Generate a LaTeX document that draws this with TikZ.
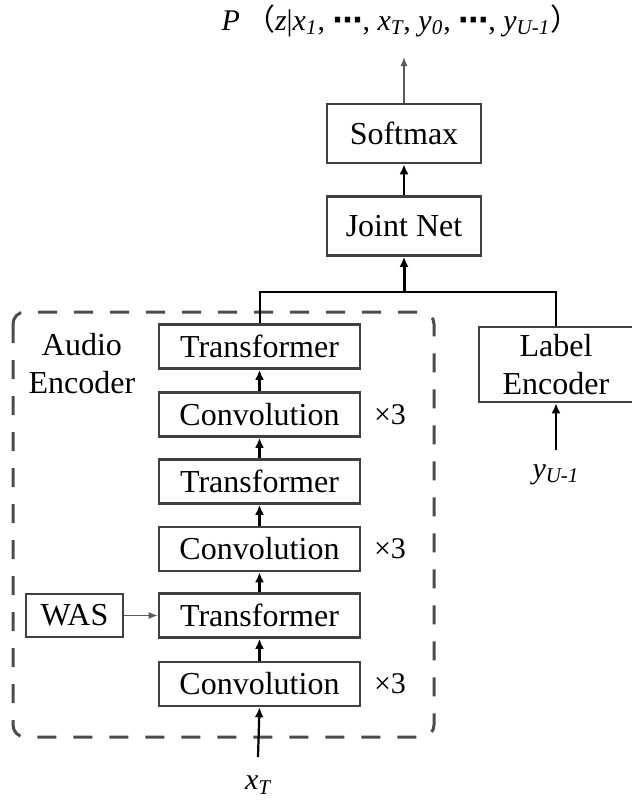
\documentclass[tikz,border=0pt]{standalone}
\usepackage{fontspec}
\setmainfont{Liberation Serif}
\newfontfamily\cjk{Noto Sans CJK SC}
\newfontfamily\dotfont{DejaVu Sans}
\usetikzlibrary{arrows.meta}
\newcommand{\ivar}[2]{\textit{#1}\textsubscript{\itshape #2}}
\newcommand{\middots}{{\dotfont\bfseries ⋯}}

\begin{document}
\begin{tikzpicture}[x=0.5pt,y=-0.5pt,
        >={Latex[length=5pt,width=4.5pt]},
        block/.style={draw=black!75,line width=1.3pt,fill=white,inner sep=0pt,minimum width=100.5pt,minimum height=22pt,font=\fontsize{16}{19}\selectfont},
        topblock/.style={block,minimum width=77pt,minimum height=29.5pt},
        labelblock/.style={block,align=center,minimum width=77pt,minimum height=37.5pt},
        wasblock/.style={block,minimum width=48.5pt,minimum height=21.5pt},
        encoder/.style={draw=black!70,line width=1.5pt,dash pattern=on 9.5pt off 8.5pt,rounded corners=6pt},
        link/.style={->,line width=1.1pt},
        thinlink/.style={->,draw=black!65,line width=0.7pt,>={Latex[length=4.5pt,width=3.5pt]}},
        repeat/.style={font=\fontsize{15}{18}\selectfont},
        var/.style={font=\fontsize{15}{18}\selectfont}
    ]

    \useasboundingbox[fill=white] (0,0) rectangle (632,800);

    \draw[encoder] (13,312) rectangle (434,737);
    \node[align=center,font=\fontsize{16}{19}\selectfont] (audiolabel) at (82,364) {Audio\\Encoder};

    \node[topblock] (softmax) at (404,133.5) {Softmax};
    \node[topblock] (joint) at (404,226) {Joint Net};

    \node[block] (trans1) at (259.5,346.5) {Transformer};
    \node[block] (conv1) at (259.5,414.5) {Convolution};
    \node[block] (trans2) at (259.5,481.5) {Transformer};
    \node[block] (conv2) at (259.5,549) {Convolution};
    \node[block] (trans3) at (259.5,615.5) {Transformer};
    \node[block] (conv3) at (259.5,684) {Convolution};

    \node[repeat] (rep1) at (390,414.5) {×3};
    \node[repeat] (rep2) at (390,549) {×3};
    \node[repeat] (rep3) at (390,684) {×3};

    \node[wasblock] (was) at (74.5,615.5) {WAS};
    \node[labelblock] (labelenc) at (556,364.5) {Label\\Encoder};

    \node[font=\fontsize{15}{18}\selectfont] (prob) at (401,21) {\textit{P}\,{\cjk （}\textit{z}|\ivar{x}{1}, \middots, \ivar{x}{T}, \ivar{y}{0}, \middots, \ivar{y}{U-1}{\cjk ）}};
    \node[var] (xT) at (258,785) {\ivar{x}{T}};
    \node[var] (yU) at (556,475) {\ivar{y}{U-1}};

    \coordinate (merge) at (404,292);
    \coordinate (out) at (404,57);
    \coordinate (xTtop) at (258,757);
    \coordinate (yUtop) at (556,450);

    % encoder stack
    \draw[link] (xTtop) -- (conv3.south);
    \draw[link] (conv3) -- (trans3);
    \draw[link] (trans3) -- (conv2);
    \draw[link] (conv2) -- (trans2);
    \draw[link] (trans2) -- (conv1);
    \draw[link] (conv1) -- (trans1);
    \draw[thinlink] (was) -- (trans3);

    \draw[link] (yUtop) -- (labelenc.south);
    \draw[line width=1pt] (trans1.north) |- (merge) -| (labelenc.north);
    \draw[link,line width=1.5pt] (merge) -- (joint.south);
    \draw[link] (joint) -- (softmax);
    \draw[thinlink] (softmax.north) -- (out);

\end{tikzpicture}
\end{document}
